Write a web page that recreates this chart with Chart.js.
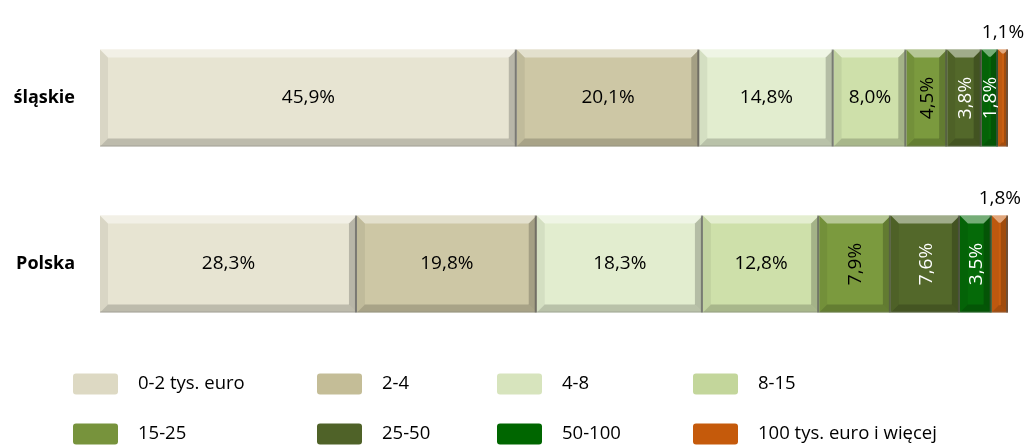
<!DOCTYPE html>
<html>
<head>
<meta charset="utf-8">
<script src="https://cdn.jsdelivr.net/npm/chart.js@4/dist/chart.umd.min.js"></script>
<style>
    html, body { margin: 0; padding: 0; background: #fff; }
    #wrap { width: 1030px; height: 446px; }
</style>
</head>
<body>
<div id="wrap"><canvas id="mychart" width="1030" height="446"></canvas></div>
<script>
// data
const categories = ['śląskie', 'Polska'];
const seriesNames = ['0-2 tys. euro', '2-4', '4-8', '8-15', '15-25', '25-50', '50-100', '100 tys. euro i więcej'];
const s0_2 = [45.9, 28.3];
const s2_4 = [20.1, 19.8];
const s4_8 = [14.8, 18.3];
const s8_15 = [8.0, 12.8];
const s15_25 = [4.5, 7.9];
const s25_50 = [3.8, 7.6];
const s50_100 = [1.8, 3.5];
const s100 = [1.1, 1.8];

const seriesValues = [s0_2, s2_4, s4_8, s8_15, s15_25, s25_50, s50_100, s100];
const colors = ['#DDD9C3', '#C4BD97', '#D7E4BD', '#C3D69B', '#77933C', '#4F6228', '#006600', '#C55A0B'];
const faceColors = ['#E7E4D2', '#CDC7A5', '#E2EDCF', '#CEE0AA', '#7B9A3E', '#53682A', '#056A08', '#C95E10'];
// how each series shows its label: h = horizontal, v = rotated, out = above bar
const labelModes = ['h', 'h', 'h', 'h', 'v', 'v', 'v', 'out'];
const labelColors = ['#000', '#000', '#000', '#000', '#000', '#fff', '#fff', '#000'];

const labelFont = '19px "Open Sans", sans-serif';

function fmt(v) {
    return v.toFixed(1).replace('.', ',') + '%';
}

const bevelPlugin = {
    id: 'bevel',
    afterDatasetsDraw(chart) {
        const ctx = chart.ctx;
        chart.data.datasets.forEach((ds, di) => {
            const meta = chart.getDatasetMeta(di);
            meta.data.forEach((el, i) => {
                const l = Math.min(el.base, el.x);
                const r = Math.max(el.base, el.x);
                const t = el.y - el.height / 2;
                const bt = el.y + el.height / 2;
                const w = r - l;
                const b = Math.max(1, Math.min(8, w / 2 - 1));
                const poly = (pts, fill) => {
                    ctx.beginPath();
                    ctx.moveTo(pts[0][0], pts[0][1]);
                    pts.slice(1).forEach(p => ctx.lineTo(p[0], p[1]));
                    ctx.closePath();
                    ctx.fillStyle = fill;
                    ctx.fill();
                };
                ctx.save();
                poly([[l, t], [r, t], [r - b, t + b], [l + b, t + b]], 'rgba(255,255,255,0.45)');
                poly([[l, bt], [r, bt], [r - b, bt - b], [l + b, bt - b]], 'rgba(0,0,0,0.18)');
                poly([[l, t], [l + b, t + b], [l + b, bt - b], [l, bt]], 'rgba(0,0,0,0.06)');
                poly([[r, t], [r - b, t + b], [r - b, bt - b], [r, bt]], 'rgba(0,0,0,0.2)');
                ctx.fillStyle = 'rgba(80,80,80,0.6)';
                ctx.fillRect(r - 2, t, 2, bt - t);
                ctx.fillStyle = 'rgba(120,120,120,0.35)';
                ctx.fillRect(l, bt - 1, w, 1);
                ctx.restore();

                // value label
                const v = seriesValues[di][i];
                const txt = fmt(v);
                const cx = (l + r) / 2;
                ctx.save();
                ctx.font = labelFont;
                ctx.fillStyle = labelColors[di];
                ctx.textAlign = 'center';
                ctx.textBaseline = 'middle';
                const mode = labelModes[di];
                if (mode === 'h') {
                    ctx.fillText(txt, cx, el.y);
                } else if (mode === 'v') {
                    ctx.translate(cx, el.y);
                    ctx.rotate(-Math.PI / 2);
                    ctx.fillText(txt, 0, 1);
                } else {
                    ctx.fillText(txt, cx, t - 17);
                }
                ctx.restore();
            });
        });
    }
};

const legendPlugin = {
    id: 'gridLegend',
    afterDraw(chart) {
        const ctx = chart.ctx;
        const colX = [73, 317, 497, 693];
        const rowY = [384, 434];
        ctx.save();
        ctx.font = '18.5px "Open Sans", sans-serif';
        ctx.textBaseline = 'middle';
        ctx.textAlign = 'left';
        seriesNames.forEach((name, k) => {
            const x = colX[k % 4];
            const y = rowY[Math.floor(k / 4)];
            ctx.fillStyle = colors[k];
            ctx.beginPath();
            ctx.roundRect(x, y - 10.5, 45, 21, 3);
            ctx.fill();
            ctx.fillStyle = '#000';
            ctx.fillText(name, x + 65, y);
        });
        ctx.restore();
    }
};

const datasets = seriesNames.map((name, k) => ({
    label: name,
    data: seriesValues[k],
    backgroundColor: faceColors[k],
    borderWidth: 0,
    categoryPercentage: 1,
    barPercentage: 0.584
}));

new Chart(document.getElementById('mychart'), {
    type: 'bar',
    data: {
        labels: categories,
        datasets: datasets
    },
    options: {
        indexAxis: 'y',
        responsive: false,
        animation: false,
        devicePixelRatio: 1,
        layout: {
            padding: { top: 15, right: 22, bottom: 99, left: 0 }
        },
        plugins: {
            legend: { display: false },
            tooltip: { enabled: false }
        },
        scales: {
            x: {
                display: false,
                stacked: true,
                min: 0,
                max: 100
            },
            y: {
                stacked: true,
                grid: { display: false, drawTicks: false },
                border: { display: false },
                ticks: {
                    color: '#000',
                    padding: 25,
                    font: { family: '"Open Sans", sans-serif', size: 18, weight: 'bold' }
                },
                afterFit(scale) {
                    scale.width = 100;
                    scale.paddingTop = 0;
                    scale.paddingBottom = 0;
                }
            }
        }
    },
    plugins: [bevelPlugin, legendPlugin]
});
</script>
</body>
</html>
